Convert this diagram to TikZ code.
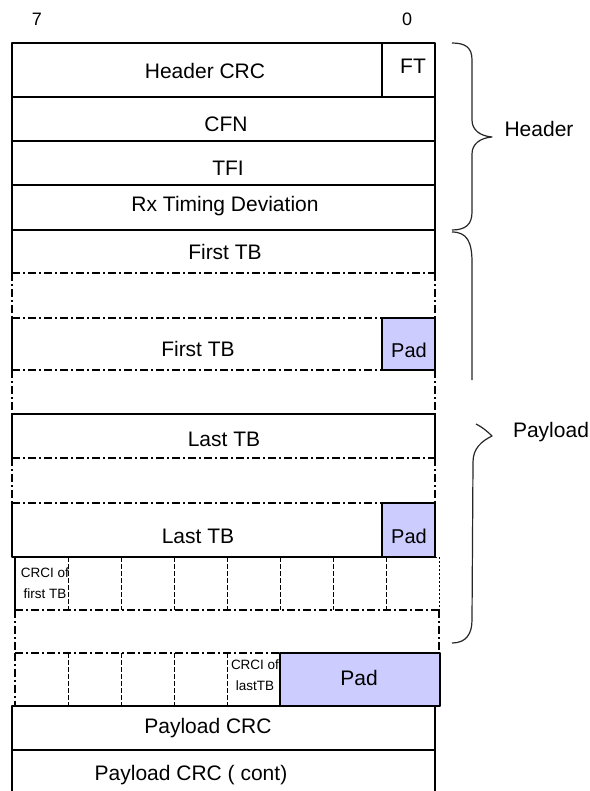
\documentclass[tikz,border=0pt]{standalone}
\usepackage{fontspec}
\setmainfont{Liberation Sans}
\definecolor{padblue}{RGB}{204,204,255}

\begin{document}
\begin{tikzpicture}[x=1pt, y=-1pt, line join=round,
	font=\fontsize{21}{25}\selectfont,
	solidline/.style={draw=black, line width=1.1pt},
	dashdot/.style={draw=black, line width=1.8pt, dash pattern=on 8pt off 3pt on 2pt off 3pt},
	celldash/.style={draw=black, line width=1pt, dash pattern=on 5pt off 2pt},
	dotline/.style={draw=black, line width=1pt, dash pattern=on 2pt off 2pt},
	padbox/.style={draw=black, line width=1.1pt, fill=padblue},
	brace/.style={draw=black!85, line width=1.2pt},
	lbl/.style={anchor=base, inner sep=0pt},
	small/.style={inner sep=0pt, font=\fontsize{13.5}{21}\selectfont, align=center}]
\useasboundingbox (0,0) rectangle (589,791);
%========================
% bit numbers
%========================
\node[lbl, font=\fontsize{18}{22}\selectfont] (msb) at (37,26) {7};
\node[lbl, font=\fontsize{18}{22}\selectfont] (lsb) at (407,26) {0};

%========================
% Header
%========================
\draw[solidline] (12,43) rectangle (435,97);
\draw[solidline] (382,43) -- (382,97);
\draw[solidline] (12,97) rectangle (435,141);
\draw[solidline] (12,141) rectangle (435,185);
\draw[solidline] (12,185) rectangle (435,230);
\node[lbl] (hdrcrc) at (205,79) {Header CRC};
\node[lbl] (ft) at (413,74) {FT};
\node[lbl] (cfn) at (226,132) {CFN};
\node[lbl] (tfi) at (228,176) {TFI};
\node[lbl] (rxtd) at (225,212) {Rx Timing Deviation};

%========================
% First TB
%========================
\draw[solidline] (12,273) -- (12,230) -- (435,230) -- (435,273);
\draw[dashdot] (12,273) -- (435,273);
\draw[dashdot] (12,273) -- (12,318) (435,273) -- (435,318);
\draw[dashdot] (12,318) -- (435,318);
\draw[solidline] (12,318) -- (12,370);
\draw[dashdot] (12,370) -- (435,370);
\draw[padbox] (382,318) rectangle (435,370);
\draw[dashdot] (12,370) -- (12,414) (435,370) -- (435,414);
\node[lbl] (firsttba) at (225,260) {First TB};
\node[lbl] (firsttbb) at (198,356) {First TB};
\node[lbl, font=\fontsize{20}{24}\selectfont] (pada) at (409,357) {Pad};

%========================
% Last TB
%========================
\draw[solidline] (12,458) -- (12,414) -- (435,414) -- (435,458);
\draw[dashdot] (12,458) -- (435,458);
\draw[dashdot] (12,458) -- (12,503) (435,458) -- (435,503);
\draw[dashdot] (12,503) -- (435,503);
\draw[solidline] (435,557) -- (12,557) -- (12,503);
\draw[padbox] (382,503) rectangle (435,557);
\node[lbl] (lasttba) at (224,446) {Last TB};
\node[lbl] (lasttbb) at (198,543) {Last TB};
\node[lbl, font=\fontsize{20}{24}\selectfont] (padb) at (409,543) {Pad};

%========================
% CRCI
%========================
\draw[dotline] (15,557) -- (439,557);
\draw[solidline] (15,557) -- (15,610);
\draw[celldash] (68,557) -- (68,610) (121,557) -- (121,610)
	(174,557) -- (174,610) (227,557) -- (227,610)
	(280,557) -- (280,610) (333,557) -- (333,610)
	(386,557) -- (386,610);
\draw[dotline] (439,557) -- (439,610);
\draw[dashdot] (15,610) -- (439,610);
\draw[dashdot] (15,610) -- (15,653) (439,610) -- (439,653);
\node[small] (crcifirst) at (45,583) {CRCI of\\first TB};

\draw[dashdot] (15,653) -- (280,653);
\draw[dashdot] (15,653) -- (15,706);
\draw[celldash] (68,653) -- (68,706) (121,653) -- (121,706)
	(174,653) -- (174,706) (227,653) -- (227,706);
\node[small] (crcilast) at (255,675) {CRCI of\\lastTB};

%========================
% Payload CRC
%========================
\draw[solidline] (12,706) rectangle (435,750);
\draw[dashdot] (15,706) -- (280,706);
\draw[padbox] (280,653) rectangle (440,706);
\node[lbl] (padc) at (359,685) {Pad};
\draw[solidline] (12,791) -- (12,750) (435,750) -- (435,791);
\node[lbl] (plcrc) at (208,733) {Payload CRC};
\node[lbl] (plcrccont) at (191,780) {Payload CRC ( cont)};

%========================
% braces
%========================
\draw[brace] (452,43) .. controls (466,43) and (472,48) .. (472,60)
	-- (472,120) .. controls (472,130) and (480,136) .. (492,137)
	.. controls (480,138) and (472,144) .. (472,154)
	-- (472,212) .. controls (472,224) and (466,230) .. (452,230);
\node[lbl] (hdrlbl) at (539,137) {Header};

\draw[brace] (452,232) .. controls (467,232) and (472,242) .. (472,262) -- (472,380);
\draw[brace] (476,424) .. controls (482,427) and (487,431) .. (492,436)
	.. controls (482,441) and (473,448) .. (473,462)
	-- (472,620) .. controls (472,634) and (466,643) .. (452,643);
\node[lbl] (pllbl) at (551,437) {Payload};
\end{tikzpicture}
\end{document}
